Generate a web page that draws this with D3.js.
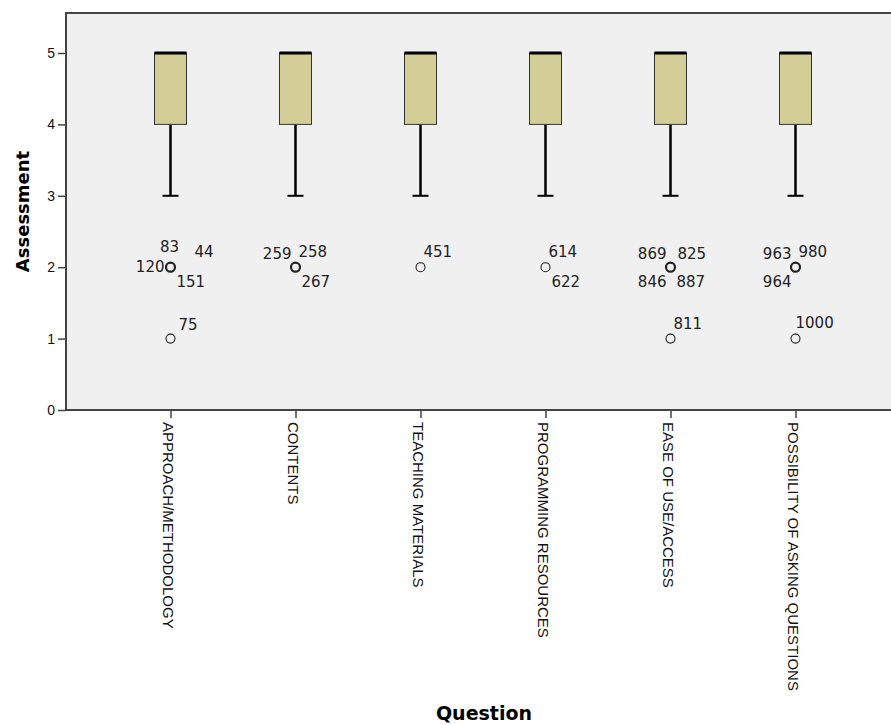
<!DOCTYPE html>
<html>
<head>
<meta charset="utf-8">
<script src="https://cdn.jsdelivr.net/npm/d3@7"></script>
<style>
  body { margin: 0; background: #fff; }
  svg { display: block; font-family: "DejaVu Sans", sans-serif; }
  .frame { fill: #f0f0f0; }
  .axis path, .axis line { stroke: #444; }
  .axis text { fill: #111; }
</style>
</head>
<body>
<svg id="chart" width="891" height="725"></svg>
<script>
// ---------------- data ----------------
let questions = ["APPROACH/METHODOLOGY", "CONTENTS", "TEACHING MATERIALS",
    "PROGRAMMING RESOURCES", "EASE OF USE/ACCESS", "POSSIBILITY OF ASKING QUESTIONS"]
let lowerWhisker = [3, 3, 3, 3, 3, 3]
let quartile1 = [4, 4, 4, 4, 4, 4]
let medians = [5, 5, 5, 5, 5, 5]
let quartile3 = [5, 5, 5, 5, 5, 5]
let yTicks = [0, 1, 2, 3, 4, 5]

// outlier cases: question index, value, case number, where the label sits
let outliers = [
    { q: 0, value: 2, id: "83", slot: "n" },
    { q: 0, value: 2, id: "44", slot: "far-ne" },
    { q: 0, value: 2, id: "120", slot: "w" },
    { q: 0, value: 2, id: "151", slot: "se" },
    { q: 0, value: 1, id: "75", slot: "ne-wide" },
    { q: 1, value: 2, id: "259", slot: "nw" },
    { q: 1, value: 2, id: "258", slot: "ne" },
    { q: 1, value: 2, id: "267", slot: "se" },
    { q: 2, value: 2, id: "451", slot: "ne" },
    { q: 3, value: 2, id: "614", slot: "ne" },
    { q: 3, value: 2, id: "622", slot: "se" },
    { q: 4, value: 2, id: "869", slot: "nw" },
    { q: 4, value: 2, id: "825", slot: "ne2" },
    { q: 4, value: 2, id: "846", slot: "sw" },
    { q: 4, value: 2, id: "887", slot: "se" },
    { q: 4, value: 1, id: "811", slot: "ne" },
    { q: 5, value: 2, id: "963", slot: "nw" },
    { q: 5, value: 2, id: "980", slot: "ne" },
    { q: 5, value: 2, id: "964", slot: "sw" },
    { q: 5, value: 1, id: "1000", slot: "n-start" }
]

// ---------------- layout ----------------
let svg = d3.select("#chart")
let margin = { left: 66, top: 13, right: -9, bottom: 315 }
let width = +svg.attr("width")
let height = +svg.attr("height")
let x0 = margin.left, x1 = width - margin.right
let y0 = height - margin.bottom, y1 = margin.top

let x = d3.scalePoint().domain(questions).range([x0, x1]).padding(0.836)
let y = d3.scaleLinear().domain([0, 5.56]).range([y0, y1])

// label offsets: [dx, dy, anchor]
let slotOffset = {
    "n":       [-1, -20, "middle"],
    "ne":      [3, -15, "start"],
    "ne-wide": [8, -14, "start"],
    "n-start": [0, -16, "start"],
    "ne2":     [7, -13, "start"],
    "far-ne":  [24, -15, "start"],
    "nw":      [-4, -13, "end"],
    "w":       [-6, 0, "end"],
    "se":      [6, 15, "start"],
    "sw":      [-4, 15, "end"]
}

// plot background
svg.append("rect")
    .attr("class", "frame")
    .attr("x", x0).attr("y", y1)
    .attr("width", x1 - x0).attr("height", y0 - y1)

// frame border (left, top, bottom)
svg.append("path")
    .attr("d", `M${x1},${y1}H${x0}V${y0}H${x1}`)
    .attr("fill", "none")
    .attr("stroke", "#444")
    .attr("stroke-width", 2)

// ---------------- axes ----------------
let yAxis = svg.append("g")
    .attr("class", "axis")
    .attr("transform", `translate(${x0},0)`)
    .call(d3.axisLeft(y).tickValues(yTicks).tickFormat(d3.format("d")).tickSize(8).tickPadding(3))
yAxis.select(".domain").remove()
yAxis.selectAll("line").attr("stroke-width", 1.5)
yAxis.selectAll("text").attr("font-size", 14)

let xAxis = svg.append("g")
    .attr("class", "axis")
    .attr("transform", `translate(0,${y0})`)
    .call(d3.axisBottom(x).tickSize(8).tickPadding(0))
xAxis.select(".domain").remove()
xAxis.selectAll("line").attr("stroke-width", 1.5)
xAxis.selectAll("text")
    .attr("font-size", 15)
    .attr("text-anchor", "start")
    .attr("y", 0)
    .attr("dy", 0)
    .attr("transform", "translate(-8,12) rotate(90)")

svg.append("text")
    .attr("transform", `translate(23,${(y0 + y1) / 2}) rotate(-90)`)
    .attr("text-anchor", "middle")
    .attr("dy", "0.35em")
    .attr("font-size", 18)
    .attr("font-weight", "bold")
    .text("Assessment")

svg.append("text")
    .attr("x", 484).attr("y", 713)
    .attr("text-anchor", "middle")
    .attr("dy", "0.35em")
    .attr("font-size", 19)
    .attr("font-weight", "bold")
    .text("Question")

// ---------------- boxes ----------------
let boxW = 32, capW = 16
let boxes = svg.append("g")
    .selectAll("g")
    .data(questions)
    .enter()
        .append("g")

boxes.append("line")
    .attr("x1", d => x(d)).attr("x2", d => x(d))
    .attr("y1", (d, i) => y(quartile1[i])).attr("y2", (d, i) => y(lowerWhisker[i]))
    .attr("stroke", "#000").attr("stroke-width", 2.5)

boxes.append("line")
    .attr("x1", d => x(d) - capW / 2).attr("x2", d => x(d) + capW / 2)
    .attr("y1", (d, i) => y(lowerWhisker[i])).attr("y2", (d, i) => y(lowerWhisker[i]))
    .attr("stroke", "#000").attr("stroke-width", 2)

boxes.append("rect")
    .attr("x", d => x(d) - boxW / 2)
    .attr("y", (d, i) => y(quartile3[i]))
    .attr("width", boxW)
    .attr("height", (d, i) => y(quartile1[i]) - y(quartile3[i]))
    .attr("fill", "#d3ce97")
    .attr("stroke", "#333").attr("stroke-width", 1)

boxes.append("line")
    .attr("x1", d => x(d) - boxW / 2).attr("x2", d => x(d) + boxW / 2)
    .attr("y1", (d, i) => y(medians[i])).attr("y2", (d, i) => y(medians[i]))
    .attr("stroke", "#000").attr("stroke-width", 3)

// ---------------- outliers ----------------
let points = d3.rollups(outliers, v => v.length, d => d.q, d => d.value)
    .flatMap(([q, vals]) => vals.map(([value, n]) => ({ q, value, n })))

svg.append("g")
    .selectAll("circle")
    .data(points)
    .enter()
        .append("circle")
        .attr("cx", d => x(questions[d.q]))
        .attr("cy", d => y(d.value))
        .attr("r", 4.5)
        .attr("fill", "none")
        .attr("stroke", "#222")
        .attr("stroke-width", d => d.n >= 3 ? 2.2 : 1.1)

svg.append("g")
    .selectAll("text")
    .data(outliers)
    .enter()
        .append("text")
        .attr("x", d => x(questions[d.q]) + slotOffset[d.slot][0])
        .attr("y", d => y(d.value) + slotOffset[d.slot][1])
        .attr("dy", "0.35em")
        .attr("text-anchor", d => slotOffset[d.slot][2])
        .attr("font-size", 15)
        .attr("fill", "#222")
        .text(d => d.id)
</script>
</body>
</html>
